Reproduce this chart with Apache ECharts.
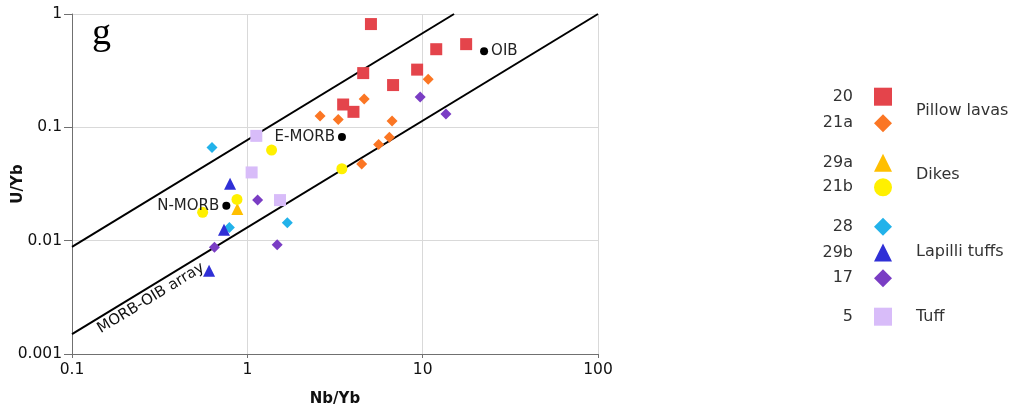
<!DOCTYPE html>
<html><head><meta charset="utf-8">
<script src="https://cdn.jsdelivr.net/npm/echarts@6/dist/echarts.min.js"></script>
<style>html,body{margin:0;padding:0;background:#fff}#chart{width:1022px;height:415px}</style>
</head><body><div id="chart"></div>
<script>
// Nb/Yb vs U/Yb by sample group
const s20  = [[5.07,0.815],[11.95,0.489],[17.7,0.542],[9.3,0.323],[4.58,0.301],[6.78,0.236],[3.52,0.159],[4.03,0.137]];
const s21a = [[10.75,0.265],[4.64,0.178],[2.60,0.126],[3.30,0.117],[6.69,0.114],[6.46,0.0818],[5.61,0.0704],[4.49,0.0474]];
const s29a = [[0.877,0.019]];
const s21b = [[1.375,0.063],[0.556,0.0178],[0.873,0.0231],[3.46,0.0431]];
const s28  = [[0.629,0.0664],[0.79,0.0131],[1.69,0.0144]];
const s29b = [[0.797,0.0318],[0.736,0.0125],[0.605,0.00544]];
const s17  = [[9.68,0.185],[13.58,0.131],[1.145,0.0228],[0.649,0.00873],[1.48,0.0092]];
const s5   = [[1.125,0.0841],[1.058,0.040],[1.536,0.0228]];

// reference compositions
const refNames  = ['OIB','E-MORB','N-MORB'];
const refPoints = [[22.4,0.469],[3.465,0.082],[0.759,0.0203]];

// MORB-OIB array bounds
const arrayLower = [[0.1,0.0015],[100,1]];
const arrayUpper = [[0.1,0.0088],[15.1,1]];
const arrayLabel = 'MORB-OIB array';

// axis tick labels
const xTickLabels = ['0.1','1','10','100'];
const yTickLabels = ['0.001','0.01','0.1','1'];

// legend groups
const groups = [
  {label:'Pillow lavas', names:['20','21a']},
  {label:'Dikes', names:['29a','21b']},
  {label:'Lapilli tuffs', names:['28','29b','17']},
  {label:'Tuff', names:['5']}
];

const FONT = '"DejaVu Sans", "Liberation Sans", Arial, sans-serif';
const decadeText = {'-3':'0.001','-2':'0.01','-1':'0.1','0':'1','1':'10','2':'100'};
const pickLabel = (labels) => (v) => {
  const t = decadeText[String(Math.round(Math.log10(v)))];
  return labels.indexOf(t) >= 0 ? t : '';
};

function pts(name, data, symbol, size, color) {
  return {name, type:'scatter', data, symbol, symbolSize:size,
    itemStyle:{color, opacity:1}, z:3, emphasis:{disabled:true}};
}

const chart = echarts.init(document.getElementById('chart'), null, {renderer:'canvas'});

// legend block placement (top of each group, spacing inside group)
const legendTops = [82.7, 148.7, 212.7, 302.7];
const legendGaps = [8.6, 6.6, 7.8, 0];
const groupLabelY = [111, 175, 251.7, 316.7];

chart.setOption({
  animation:false,
  backgroundColor:'#fff',
  grid:{left:72, top:14, width:526, height:340, outerBoundsMode:'none', containLabel:false},
  xAxis:{
    type:'log', logBase:10, min:0.1, max:100,
    name:'Nb/Yb', nameLocation:'middle', nameGap:38, nameMoveOverlap:false,
    nameTextStyle:{fontFamily:FONT, fontWeight:'bold', fontSize:15, color:'#111'},
    axisLine:{show:true, lineStyle:{color:'#707070', width:1}},
    axisTick:{show:true, length:4, lineStyle:{color:'#707070'}},
    minorTick:{show:false},
    axisLabel:{fontFamily:FONT, fontSize:15.5, color:'#111', margin:8, formatter:pickLabel(xTickLabels)},
    splitLine:{show:true, lineStyle:{color:'#d9d9d9', width:1}}
  },
  yAxis:{
    type:'log', logBase:10, min:0.001, max:1,
    name:'U/Yb', nameLocation:'middle', nameGap:46, nameRotate:90, nameMoveOverlap:false,
    nameTextStyle:{fontFamily:FONT, fontWeight:'bold', fontSize:15, color:'#111'},
    axisLine:{show:true, lineStyle:{color:'#707070', width:1}},
    axisTick:{show:true, length:8, lineStyle:{color:'#707070'}},
    axisLabel:{fontFamily:FONT, fontSize:15.5, color:'#111', margin:10, formatter:pickLabel(yTickLabels)},
    splitLine:{show:true, lineStyle:{color:'#d9d9d9', width:1}}
  },
  legend: groups.map((g, i) => ({
    data:g.names, orient:'vertical', align:'right',
    right:125, top:legendTops[i], itemGap:legendGaps[i],
    itemWidth:18, itemHeight:18, selectedMode:false,
    textStyle:{fontFamily:FONT, fontSize:16, lineHeight:18, color:'#333', padding:[0,16,0,0]}
  })),
  graphic:[
    {type:'text', x:92, y:34, style:{text:'g', font:'38px "Liberation Serif", "Times New Roman", serif',
      fill:'#000', verticalAlign:'middle'}},
    ...groups.map((g, i) => ({
      type:'text', x:916, y:groupLabelY[i],
      style:{text:g.label, font:'16px ' + FONT, fill:'#333', verticalAlign:'middle'}
    }))
  ],
  series:[
    {type:'line', data:arrayLower, symbol:'none', silent:true, z:2,
      lineStyle:{color:'#000', width:2},
      markLine:{silent:true, symbol:'none',
        lineStyle:{color:'#000', width:0},
        label:{show:true, formatter:arrayLabel, position:'insideStartBottom', distance:[25, 3],
          fontFamily:FONT, fontSize:15, color:'#111'},
        data:[[{coord:arrayLower[0]},{coord:arrayLower[1]}]]}},
    {type:'line', data:arrayUpper, symbol:'none', silent:true, z:2,
      lineStyle:{color:'#000', width:2}},
    pts('20', s20, 'rect', 12, '#e4444b'),
    pts('21a', s21a, 'diamond', 11, '#fb7624'),
    pts('29a', s29a, 'triangle', 12, '#ffbf00'),
    pts('21b', s21b, 'circle', 11, '#fff000'),
    pts('28', s28, 'diamond', 11, '#22b2ea'),
    pts('29b', s29b, 'triangle', 12, '#2f2fd6'),
    pts('17', s17, 'diamond', 11, '#7a3dc4'),
    pts('5', s5, 'rect', 12, '#d8bcf9'),
    {type:'scatter', name:'ref', symbol:'circle', symbolSize:8, z:4,
      itemStyle:{color:'#000', opacity:1}, emphasis:{disabled:true},
      data: refPoints.map((p, i) => ({
        name:refNames[i], value:p,
        label:{show:true, formatter:'{b}', position: i === 0 ? 'right' : 'left', distance:3,
          fontFamily:FONT, fontSize:15, color:'#222'}
      }))}
  ]
});
</script></body></html>
